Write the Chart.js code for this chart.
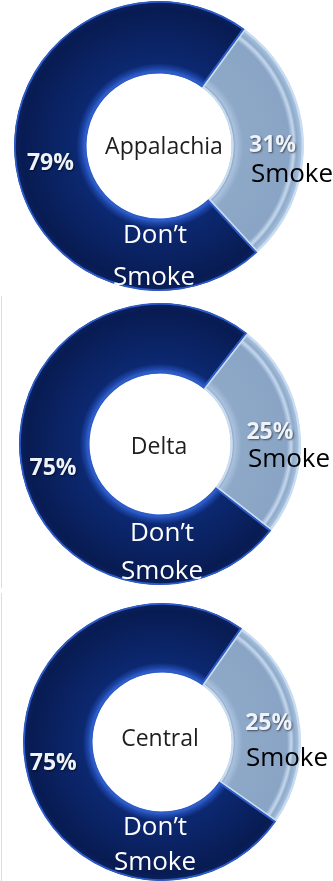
<!DOCTYPE html>
<html lang="en">
<head>
<meta charset="UTF-8">
<title>Smokers by region</title>
<script src="https://cdn.jsdelivr.net/npm/chart.js"></script>
<style>
    body {
        margin: 0;
        background: #ffffff;
        width: 333px;
        height: 881px;
        overflow: hidden;
        position: relative;
        font-family: 'Open Sans', sans-serif;
    }
    .panel {
        position: absolute;
        left: 0;
        width: 333px;
    }
    .frame {
        position: absolute;
        left: 1px;
        width: 1px;
        background: #dcdcdc;
    }
</style>
</head>
<body>
<div class="frame" style="top:296px;height:292px"></div>
<div class="frame" style="top:593px;height:288px"></div>
<div class="panel" style="top:0;height:294px"><canvas id="c0"></canvas></div>
<div class="panel" style="top:294px;height:294px"><canvas id="c1"></canvas></div>
<div class="panel" style="top:588px;height:293px"><canvas id="c2"></canvas></div>

<script>
    // data
    const regions = ['Appalachia', 'Delta', 'Central'];
    const smokePct = [31, 25, 25];
    const dontSmokePct = [79, 75, 75];
    const sliceNames = ['Smoke', 'Don\u2019t Smoke'];

    // where each ring sits inside its panel, and where its words go
    const panels = [
        { h: 294, cx: 159, cy: 146, r: 145, rotation: 36,
          pctNudge: [[5, 4], [0, 10]],
          mid: [5, 0], smoke: [133, 27], dont: [[-4, 88], [-5, 130]] },
        { h: 294, cx: 160, cy: 150, r: 141, rotation: 38,
          pctNudge: [[5, 0], [-2, 10]],
          mid: [-1, 2], smoke: [129, 14], dont: [[2, 88], [2, 126]] },
        { h: 293, cx: 162, cy: 154, r: 139, rotation: 35,
          pctNudge: [[4, -2], [-6, 2]],
          mid: [-2, -4], smoke: [125, 15], dont: [[-7, 84], [-7, 119]] }
    ];

    const W = 333;

    function shade(chart, R, stops) {
        const a = chart.chartArea;
        if (!a) return stops[stops.length - 1][1];
        const cx = (a.left + a.right) / 2, cy = (a.top + a.bottom) / 2;
        const g = chart.ctx.createRadialGradient(cx, cy, 0, cx, cy, R);
        stops.forEach(s => g.addColorStop(s[0], s[1]));
        return g;
    }

    const smokeStops = [
        [0, '#8aa5c6'], [0.49, '#8aa5c6'], [0.5, '#6f89ab'], [0.53, '#a9c1dd'],
        [0.58, '#8ea8c8'], [0.9, '#8aa4c5'], [0.93, '#c4d8ee'], [0.95, '#8fa9c9'],
        [0.985, '#a8c2e0'], [1, '#d3e4f5']
    ];
    const navyStops = [
        [0, '#0a2160'], [0.49, '#0a2160'], [0.5, '#3f70dc'], [0.53, '#1f49ae'],
        [0.57, '#0c2870'], [0.8, '#0a215f'], [0.95, '#081b52'], [0.985, '#0a205e'],
        [1, '#06123c']
    ];

    // words drawn onto each ring
    const ringText = {
        id: 'ringText',
        afterDatasetsDraw(chart, args, opts) {
            const p = panels[opts.index];
            const ctx = chart.ctx;
            const arcs = chart.getDatasetMeta(0).data;
            const cx = arcs[0].x, cy = arcs[0].y;

            function put(text, x, y, size, weight, color, shadow) {
                ctx.save();
                ctx.font = weight + ' ' + size + 'px "Open Sans", sans-serif';
                ctx.fillStyle = color;
                ctx.textAlign = 'center';
                ctx.textBaseline = 'alphabetic';
                if (shadow) {
                    ctx.shadowColor = 'rgba(0,0,0,0.55)';
                    ctx.shadowOffsetX = 1;
                    ctx.shadowOffsetY = 1;
                    ctx.shadowBlur = 2;
                }
                ctx.fillText(text, x, y + size * 0.357);
                ctx.restore();
            }

            // percentages sit in the middle of each slice
            const values = chart.data.datasets[0].data;
            arcs.forEach((arc, i) => {
                const pos = arc.tooltipPosition(true);
                const n = p.pctNudge[i];
                put(values[i] + '%', pos.x + n[0], pos.y + n[1], 23, 'bold', '#eef3fa', true);
            });

            put(regions[opts.index], cx + p.mid[0], cy + p.mid[1], 23, 'normal', '#1e1e1e', false);
            put(sliceNames[0], cx + p.smoke[0], cy + p.smoke[1], 26, 'normal', '#000000', false);
            const words = ['Don\u2019t', 'Smoke'];
            p.dont.forEach((d, i) => {
                put(words[i], cx + d[0], cy + d[1], 26, 'normal', '#ffffff', false);
            });
        }
    };

    regions.forEach((name, i) => {
        const p = panels[i];
        const half = Math.min(p.cx, W - p.cx, p.cy, p.h - p.cy);
        new Chart(document.getElementById('c' + i), {
            type: 'doughnut',
            data: {
                labels: sliceNames,
                datasets: [{
                    data: [smokePct[i], dontSmokePct[i]],
                    backgroundColor: ctx => [
                        shade(ctx.chart, p.r, smokeStops),
                        shade(ctx.chart, p.r, navyStops)
                    ][ctx.dataIndex],
                    borderColor: ['#c9dcf0', '#2d5cc8'],
                    borderWidth: [2, 1.5],
                    borderAlign: 'inner',
                    clip: false
                }]
            },
            options: {
                responsive: true,
                maintainAspectRatio: false,
                animation: false,
                events: [],
                rotation: p.rotation,
                cutout: '50%',
                radius: p.r,
                layout: {
                    padding: {
                        left: p.cx - half,
                        right: W - p.cx - half,
                        top: p.cy - half,
                        bottom: p.h - p.cy - half
                    }
                },
                plugins: {
                    legend: { display: false },
                    tooltip: { enabled: false },
                    ringText: { index: i }
                }
            },
            plugins: [ringText]
        });
    });
</script>
</body>
</html>
